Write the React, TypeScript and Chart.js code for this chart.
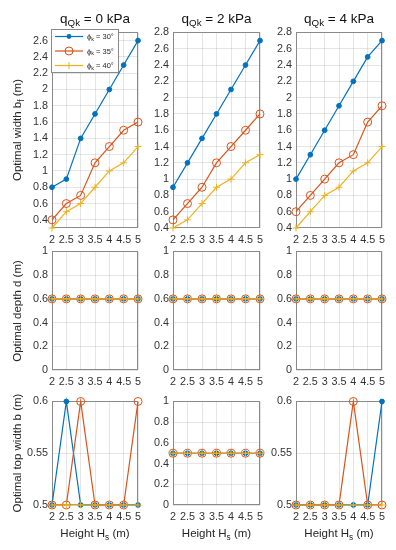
import React, { useEffect, useRef } from 'react';
import { Chart, registerables } from 'chart.js';

Chart.register(...registerables);

// ---------------- data ----------------
const heightsHs = [2, 2.5, 3, 3.5, 4, 4.5, 5];
const xTickValues = [2, 2.5, 3, 3.5, 4, 4.5, 5];
const phiLabels = ['30°', '35°', '40°'];
const loadLabels = ['0', '2', '4'];

// Optimal width b_f (m)
const widthQ0Phi30 = [0.8, 0.9, 1.4, 1.7, 2.0, 2.3, 2.6];
const widthQ0Phi35 = [0.4, 0.6, 0.7, 1.1, 1.3, 1.5, 1.6];
const widthQ0Phi40 = [0.3, 0.5, 0.6, 0.8, 1.0, 1.1, 1.3];
const widthQ2Phi30 = [0.9, 1.2, 1.5, 1.8, 2.1, 2.4, 2.7];
const widthQ2Phi35 = [0.5, 0.7, 0.9, 1.2, 1.4, 1.6, 1.8];
const widthQ2Phi40 = [0.4, 0.5, 0.7, 0.9, 1.0, 1.2, 1.3];
const widthQ4Phi30 = [1.0, 1.3, 1.6, 1.9, 2.2, 2.5, 2.7];
const widthQ4Phi35 = [0.6, 0.8, 1.0, 1.2, 1.3, 1.7, 1.9];
const widthQ4Phi40 = [0.4, 0.6, 0.8, 0.9, 1.1, 1.2, 1.4];

// Optimal depth d (m)
const depthQ0Phi30 = [0.6, 0.6, 0.6, 0.6, 0.6, 0.6, 0.6];
const depthQ0Phi35 = [0.6, 0.6, 0.6, 0.6, 0.6, 0.6, 0.6];
const depthQ0Phi40 = [0.6, 0.6, 0.6, 0.6, 0.6, 0.6, 0.6];
const depthQ2Phi30 = [0.6, 0.6, 0.6, 0.6, 0.6, 0.6, 0.6];
const depthQ2Phi35 = [0.6, 0.6, 0.6, 0.6, 0.6, 0.6, 0.6];
const depthQ2Phi40 = [0.6, 0.6, 0.6, 0.6, 0.6, 0.6, 0.6];
const depthQ4Phi30 = [0.6, 0.6, 0.6, 0.6, 0.6, 0.6, 0.6];
const depthQ4Phi35 = [0.6, 0.6, 0.6, 0.6, 0.6, 0.6, 0.6];
const depthQ4Phi40 = [0.6, 0.6, 0.6, 0.6, 0.6, 0.6, 0.6];

// Optimal top width b (m)
const topQ0Phi30 = [0.5, 0.6, 0.5, 0.5, 0.5, 0.5, 0.5];
const topQ0Phi35 = [0.5, 0.5, 0.6, 0.5, 0.5, 0.5, 0.6];
const topQ0Phi40 = [0.5, 0.5, 0.5, 0.5, 0.5, 0.5, 0.5];
const topQ2Phi30 = [0.5, 0.5, 0.5, 0.5, 0.5, 0.5, 0.5];
const topQ2Phi35 = [0.5, 0.5, 0.5, 0.5, 0.5, 0.5, 0.5];
const topQ2Phi40 = [0.5, 0.5, 0.5, 0.5, 0.5, 0.5, 0.5];
const topQ4Phi30 = [0.5, 0.5, 0.5, 0.5, 0.5, 0.5, 0.6];
const topQ4Phi35 = [0.5, 0.5, 0.5, 0.5, 0.6, 0.5, 0.5];
const topQ4Phi40 = [0.5, 0.5, 0.5, 0.5, 0.5, 0.5, 0.5];

// y tick values
const widthTicksQ0 = [0.4, 0.6, 0.8, 1, 1.2, 1.4, 1.6, 1.8, 2, 2.2, 2.4, 2.6];
const widthTicks = [0.4, 0.6, 0.8, 1, 1.2, 1.4, 1.6, 1.8, 2, 2.2, 2.4, 2.6, 2.8];
const unitTicks = [0, 0.2, 0.4, 0.6, 0.8, 1];
const topWidthTicks = [0.5, 0.55, 0.6];

// ---------------- styling ----------------
const FONT = '"Liberation Sans", Arial, Helvetica, sans-serif';
const COLORS = ['#0072BD', '#D95319', '#EDB120'];
const TICK_COLOR = '#333333';
const GRID_COLOR = 'rgba(0,0,0,0.10)';
const FRAME_COLOR = '#8a8a8a';

const colX0 = [52, 173, 296];
const colX1 = [138, 260, 382];
const rowY0 = [32, 251, 401];
const rowY1 = [228, 370, 505];

const M = { l: 40, t: 10, r: 12, b: 28 };

type PanelCfg = {
  row: number;
  col: number;
  series: number[][];
  yMin: number;
  yMax: number;
  yTicks: number[];
  legend?: boolean;
};

const panels: PanelCfg[] = [
  { row: 0, col: 0, series: [widthQ0Phi30, widthQ0Phi35, widthQ0Phi40], yMin: 0.3, yMax: 2.7, yTicks: widthTicksQ0, legend: true },
  { row: 0, col: 1, series: [widthQ2Phi30, widthQ2Phi35, widthQ2Phi40], yMin: 0.4, yMax: 2.8, yTicks: widthTicks },
  { row: 0, col: 2, series: [widthQ4Phi30, widthQ4Phi35, widthQ4Phi40], yMin: 0.4, yMax: 2.8, yTicks: widthTicks },
  { row: 1, col: 0, series: [depthQ0Phi30, depthQ0Phi35, depthQ0Phi40], yMin: 0, yMax: 1, yTicks: unitTicks },
  { row: 1, col: 1, series: [depthQ2Phi30, depthQ2Phi35, depthQ2Phi40], yMin: 0, yMax: 1, yTicks: unitTicks },
  { row: 1, col: 2, series: [depthQ4Phi30, depthQ4Phi35, depthQ4Phi40], yMin: 0, yMax: 1, yTicks: unitTicks },
  { row: 2, col: 0, series: [topQ0Phi30, topQ0Phi35, topQ0Phi40], yMin: 0.5, yMax: 0.6, yTicks: topWidthTicks },
  { row: 2, col: 1, series: [topQ2Phi30, topQ2Phi35, topQ2Phi40], yMin: 0, yMax: 1, yTicks: unitTicks },
  { row: 2, col: 2, series: [topQ4Phi30, topQ4Phi35, topQ4Phi40], yMin: 0.5, yMax: 0.6, yTicks: topWidthTicks },
];

const fmt = (v: number) => String(Math.round(v * 100) / 100);

const POINT_STYLE = ['circle', 'circle', 'cross'];
const POINT_RADIUS = [2.4, 4, 3.5];

function makeDataset(values: number[], i: number) {
  return {
    label: phiLabels[i],
    data: heightsHs.map((h, j) => ({ x: h, y: values[j] })),
    borderColor: COLORS[i],
    backgroundColor: COLORS[i],
    pointBackgroundColor: i === 0 ? COLORS[0] : 'rgba(0,0,0,0)',
    pointBorderColor: COLORS[i],
    pointStyle: POINT_STYLE[i],
    pointRadius: POINT_RADIUS[i],
    pointBorderWidth: 1,
    borderWidth: 1.2,
    tension: 0,
    clip: false as any,
    order: 2 - i,
  };
}

const framePlugin = {
  id: 'frameBox',
  beforeDatasetsDraw(chart: any) {
    const { ctx, chartArea } = chart;
    const l = Math.round(chartArea.left);
    const t = Math.round(chartArea.top);
    const r = Math.round(chartArea.right);
    const b = Math.round(chartArea.bottom);
    ctx.save();
    ctx.strokeStyle = FRAME_COLOR;
    ctx.lineWidth = 1;
    ctx.strokeRect(l + 0.5, t + 0.5, r - l - 1, b - t - 1);
    ctx.restore();
  },
};

function drawMarker(ctx: CanvasRenderingContext2D, i: number, x: number, y: number) {
  ctx.strokeStyle = COLORS[i];
  ctx.fillStyle = COLORS[i];
  ctx.lineWidth = 1;
  ctx.beginPath();
  if (i === 0) {
    ctx.arc(x, y, POINT_RADIUS[0], 0, Math.PI * 2);
    ctx.fill();
  } else if (i === 1) {
    ctx.arc(x, y, POINT_RADIUS[1], 0, Math.PI * 2);
    ctx.stroke();
  } else {
    const r = POINT_RADIUS[2];
    ctx.moveTo(x - r, y);
    ctx.lineTo(x + r, y);
    ctx.moveTo(x, y - r);
    ctx.lineTo(x, y + r);
    ctx.stroke();
  }
}

const legendPlugin = {
  id: 'phiLegend',
  afterDraw(chart: any) {
    const { ctx, chartArea } = chart;
    const bx = Math.round(chartArea.left) - 1;
    const by = Math.round(chartArea.top) - 3;
    const bw = 68;
    const bh = 44;
    ctx.save();
    ctx.fillStyle = '#ffffff';
    ctx.fillRect(bx, by, bw, bh);
    ctx.strokeStyle = FRAME_COLOR;
    ctx.lineWidth = 1;
    ctx.strokeRect(bx + 0.5, by + 0.5, bw - 1, bh - 1);
    const rowsY = [7.5, 22, 36.5];
    phiLabels.forEach((lab, i) => {
      const y = by + rowsY[i];
      ctx.strokeStyle = COLORS[i];
      ctx.lineWidth = 1.2;
      ctx.beginPath();
      ctx.moveTo(bx + 4, y);
      ctx.lineTo(bx + 32, y);
      ctx.stroke();
      drawMarker(ctx, i, bx + 18, y);
      ctx.fillStyle = '#262626';
      ctx.textBaseline = 'alphabetic';
      ctx.textAlign = 'left';
      let x = bx + 36;
      ctx.font = `7.5px ${FONT}`;
      ctx.fillText('ϕ', x, y + 2.5);
      x += ctx.measureText('ϕ').width;
      ctx.font = `5.5px ${FONT}`;
      ctx.fillText('k', x, y + 4.2);
      x += ctx.measureText('k').width;
      ctx.font = `7.5px ${FONT}`;
      ctx.fillText(' = ' + lab, x, y + 2.5);
    });
    ctx.restore();
  },
};

function Panel({ p }: { p: PanelCfg }) {
  const ref = useRef<HTMLCanvasElement>(null);
  const x0 = colX0[p.col];
  const x1 = colX1[p.col];
  const y0 = rowY0[p.row];
  const y1 = rowY1[p.row];
  const w = x1 - x0;
  const h = y1 - y0;
  useEffect(() => {
    if (!ref.current) return;
    const tickFont = { family: FONT, size: 10.8 };
    const chart = new Chart(ref.current, {
      type: 'line',
      data: { datasets: p.series.map((vals, i) => makeDataset(vals, i)) as any },
      options: {
        animation: false,
        responsive: false,
        maintainAspectRatio: false,
        devicePixelRatio: 1,
        events: [],
        layout: { padding: { left: 0, top: M.t, right: M.r, bottom: 0 } },
        plugins: {
          legend: { display: false },
          tooltip: { enabled: false },
          title: { display: false },
        },
        scales: {
          x: {
            type: 'linear',
            min: 2,
            max: 5,
            afterBuildTicks: (s: any) => {
              s.ticks = xTickValues.map((v) => ({ value: v }));
            },
            afterFit: (s: any) => {
              s.height = M.b;
            },
            grid: { color: GRID_COLOR, drawTicks: false, lineWidth: 1 },
            border: { display: false },
            ticks: {
              font: tickFont,
              color: TICK_COLOR,
              padding: 6,
              autoSkip: false,
              maxRotation: 0,
              minRotation: 0,
              callback: (v: any) => fmt(Number(v)),
            },
          },
          y: {
            type: 'linear',
            min: p.yMin,
            max: p.yMax,
            afterBuildTicks: (s: any) => {
              s.ticks = p.yTicks.map((v) => ({ value: v }));
            },
            afterFit: (s: any) => {
              s.width = M.l;
            },
            grid: { color: GRID_COLOR, drawTicks: false, lineWidth: 1 },
            border: { display: false },
            ticks: {
              font: tickFont,
              color: TICK_COLOR,
              padding: 4,
              autoSkip: false,
              callback: (v: any) => fmt(Number(v)),
            },
          },
        },
      } as any,
      plugins: p.legend ? [framePlugin, legendPlugin] : [framePlugin],
    });
    return () => chart.destroy();
  }, []);
  return (
    <canvas
      ref={ref}
      width={w + M.l + M.r}
      height={h + M.t + M.b}
      style={{ position: 'absolute', left: x0 - M.l, top: y0 - M.t, width: w + M.l + M.r, height: h + M.t + M.b }}
    />
  );
}

const subStyle: React.CSSProperties = { fontSize: '0.72em', position: 'relative', top: '0.38em' };

function Title({ col, load }: { col: number; load: string }) {
  const cx = (colX0[col] + colX1[col]) / 2;
  return (
    <div
      style={{
        position: 'absolute', left: cx - 70, width: 140, top: 11.5, textAlign: 'center',
        fontSize: 13.5, lineHeight: '13px', color: '#111', whiteSpace: 'nowrap',
      }}
    >
      q<span style={subStyle}>Qk</span> = {load} kPa
    </div>
  );
}

function XLabel({ col }: { col: number }) {
  const cx = (colX0[col] + colX1[col]) / 2;
  return (
    <div
      style={{
        position: 'absolute', left: cx - 70, width: 140, top: 526.5, textAlign: 'center',
        fontSize: 11.5, lineHeight: '12px', color: '#262626', whiteSpace: 'nowrap',
      }}
    >
      Height H<span style={subStyle}>s</span> (m)
    </div>
  );
}

function YLabel({ row, children }: { row: number; children: React.ReactNode }) {
  const cy = (rowY0[row] + rowY1[row]) / 2;
  const cx = 16.5;
  return (
    <div
      style={{
        position: 'absolute', left: cx - 100, width: 200, top: cy - 6, height: 12,
        textAlign: 'center', fontSize: 11.5, lineHeight: '12px', color: '#262626',
        whiteSpace: 'nowrap', transform: 'rotate(-90deg)',
      }}
    >
      {children}
    </div>
  );
}

export default function App() {
  return (
    <div
      style={{
        position: 'absolute', left: 0, top: 0, width: 396, height: 550,
        background: '#ffffff', fontFamily: FONT, overflow: 'hidden',
      }}
    >
      {panels.map((p, i) => (
        <Panel key={i} p={p} />
      ))}
      {loadLabels.map((q, i) => (
        <Title key={'t' + i} col={i} load={q} />
      ))}
      {[0, 1, 2].map((i) => (
        <XLabel key={'x' + i} col={i} />
      ))}
      <YLabel row={0}>
        Optimal width b<span style={subStyle}>f</span> (m)
      </YLabel>
      <YLabel row={1}>Optimal depth d (m)</YLabel>
      <YLabel row={2}>Optimal top width b (m)</YLabel>
    </div>
  );
}
